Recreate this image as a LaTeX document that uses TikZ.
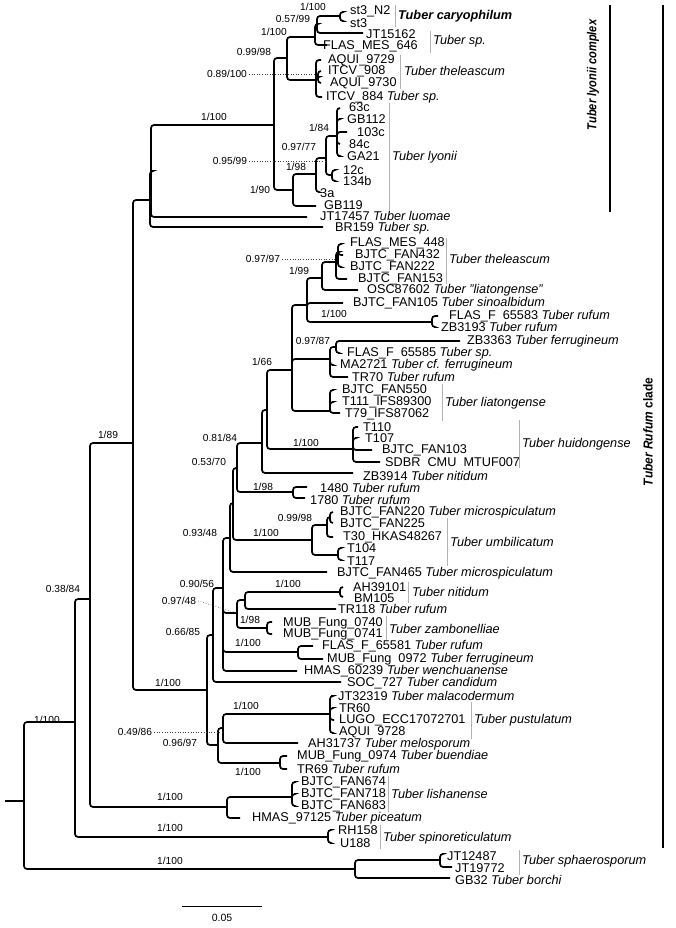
\documentclass[tikz,border=0pt]{standalone}
\usepackage{fontspec}
\setmainfont{Liberation Sans}
\usepackage{graphicx}
\newcommand\brn[2]{\draw[branch] (#1) |- (#2);}
\begin{document}
\begin{tikzpicture}[x=1pt,y=-1pt,
  branch/.style={line width=1.7pt, rounded corners=3pt},
  leaf/.style={anchor=west, inner sep=0pt, font=\fontsize{12.7}{14}\selectfont},
  supv/.style={inner sep=0pt, font=\fontsize{10.2}{11}\selectfont},
  grp/.style={anchor=west, inner sep=0pt, font=\fontsize{12.7}{14}\selectfont\itshape},
  gbar/.style={draw=gray!60, line width=0.7pt},
  dotl/.style={dotted, line width=0.6pt, black!75},
  clade/.style={rotate=90, inner sep=0pt, font=\fontsize{13}{15}\selectfont\bfseries},
]
\useasboundingbox (0,0) rectangle (676,928);
% ---------- internal nodes ----------
\coordinate (rootL) at (5,801);
\coordinate (root) at (24,801);
\coordinate (S1) at (75,722);
\coordinate (SPH) at (355,869);
\coordinate (JTP) at (440,860);
\coordinate (T) at (90,599);
\coordinate (RH) at (328,837);
\coordinate (R) at (133,443);
\coordinate (LISH) at (227,807);
\coordinate (LB) at (292,797);
\coordinate (L2) at (150,200);
\coordinate (L1) at (151,171);
\coordinate (D) at (274,125);
\coordinate (Cp) at (287,58);
\coordinate (Cn) at (315,37);
\coordinate (B) at (317,24);
\coordinate (A) at (340,16);
\coordinate (G2) at (316,80);
\coordinate (G3) at (318,77);
\coordinate (E) at (293,190);
\coordinate (F) at (316,174);
\coordinate (G) at (326,158);
\coordinate (H) at (337,136);
\coordinate (I) at (332,175);
\coordinate (N2) at (207,690);
\coordinate (N3) at (213,635);
\coordinate (N4) at (223,588);
\coordinate (N5) at (230,538);
\coordinate (N8) at (233,503);
\coordinate (N9) at (237,468);
\coordinate (N10) at (262,443);
\coordinate (N11) at (267,410);
\coordinate (N12) at (292,370);
\coordinate (N13) at (307,305);
\coordinate (N14) at (322,278);
\coordinate (N15) at (336,262);
\coordinate (N16) at (338,252);
\coordinate (RF2) at (432,322);
\coordinate (N17) at (330,359);
\coordinate (N18) at (336,347);
\coordinate (LIA) at (330,411);
\coordinate (HUI) at (353,449);
\coordinate (R98) at (293,492);
\coordinate (UMB) at (312,540);
\coordinate (U1) at (327,525);
\coordinate (U3) at (330,517);
\coordinate (U2) at (338,555);
\coordinate (N6) at (237,613);
\coordinate (N7) at (245,600);
\coordinate (NIT) at (340,592);
\coordinate (ZAM) at (267,628);
\coordinate (RF) at (298,652);
\coordinate (P2) at (218,745);
\coordinate (P1) at (223,728);
\coordinate (PUS) at (330,714);
\coordinate (BUE) at (280,763);
% ---------- tips ----------
\coordinate (tst3N2) at (342,12);
\coordinate (tst3) at (342,21);
\coordinate (tJT15162) at (363,33);
\coordinate (tFM646) at (327,45);
\coordinate (tAQ9729) at (321,60);
\coordinate (tIT908) at (321,71);
\coordinate (tAQ9730) at (321,83);
\coordinate (tIT884) at (322,97);
\coordinate (t63c) at (340,108);
\coordinate (tGB112) at (339,119);
\coordinate (t103c) at (347,132);
\coordinate (t84c) at (340,144);
\coordinate (tGA21) at (338,156);
\coordinate (t12c) at (334,170);
\coordinate (t134b) at (334,181);
\coordinate (t3a) at (318,192);
\coordinate (tGB119) at (316,206);
\coordinate (tJT17457) at (307,217);
\coordinate (tBR159) at (323,227);
\coordinate (tFM448) at (340,244);
\coordinate (tF432) at (343,255);
\coordinate (tF222) at (340,267);
\coordinate (tF153) at (347,279);
\coordinate (tOSC) at (358,290);
\coordinate (tF105) at (343,303);
\coordinate (tFF583) at (438,316);
\coordinate (tZB3193) at (434,327);
\coordinate (tZB3363) at (460,341);
\coordinate (tFF585) at (338,353);
\coordinate (tMA2721) at (332,365);
\coordinate (tTR70) at (348,377);
\coordinate (tF550) at (332,390);
\coordinate (tT111) at (332,402);
\coordinate (tT79) at (340,413);
\coordinate (tT110) at (358,427);
\coordinate (tT107) at (355,438);
\coordinate (tF103) at (372,450);
\coordinate (tSDBR) at (380,462);
\coordinate (tZB3914) at (353,473);
\coordinate (t1480) at (307,487);
\coordinate (t1780) at (305,498);
\coordinate (tF220) at (333,512);
\coordinate (tF225) at (333,523);
\coordinate (tT30) at (333,537);
\coordinate (tT104) at (340,548);
\coordinate (tT117) at (340,560);
\coordinate (tF465) at (327,572);
\coordinate (tAH39101) at (343,587);
\coordinate (tBM105) at (343,597);
\coordinate (tTR118) at (336,609);
\coordinate (t0740) at (272,622);
\coordinate (t0741) at (272,634);
\coordinate (tFF581) at (313,646);
\coordinate (tM0972) at (323,659);
\coordinate (tHM60239) at (297,671);
\coordinate (tSOC) at (341,682);
\coordinate (tJT32319) at (331,696);
\coordinate (tTR60) at (332,708);
\coordinate (tLUGO) at (334,720);
\coordinate (tAQ9728) at (332,733);
\coordinate (tAH31737) at (298,743);
\coordinate (tM0974) at (287,756);
\coordinate (tTR69) at (287,769);
\coordinate (tF674) at (294,782);
\coordinate (tF718) at (294,794);
\coordinate (tF683) at (294,806);
\coordinate (tHM97125) at (240,818);
\coordinate (tRH158) at (330,830);
\coordinate (tU188) at (330,843);
\coordinate (tJT12487) at (442,854);
\coordinate (tJT19772) at (452,867);
\coordinate (tGB32) at (450,878);
% ---------- branches ----------
\draw[branch] (rootL) -- (root);
\brn{root}{S1} \brn{root}{SPH}
\brn{SPH}{JTP} \brn{SPH}{tGB32}
\brn{JTP}{tJT12487} \brn{JTP}{tJT19772}
\brn{S1}{T} \brn{S1}{RH}
\brn{RH}{tRH158} \brn{RH}{tU188}
\brn{T}{R} \brn{T}{LISH}
\brn{LISH}{LB} \brn{LISH}{tHM97125}
\brn{LB}{tF674} \brn{LB}{tF718} \brn{LB}{tF683}
\brn{R}{L2} \brn{R}{N2}
\brn{L2}{L1} \brn{L2}{tBR159}
\brn{L1}{D} \brn{L1}{tJT17457}
\brn{D}{Cp} \brn{D}{E}
\brn{Cp}{Cn} \brn{Cp}{G2}
\brn{Cn}{B} \brn{Cn}{tFM646}
\brn{B}{A} \brn{B}{tJT15162}
\brn{A}{tst3N2} \brn{A}{tst3}
\brn{G2}{tAQ9729} \brn{G2}{G3} \brn{G2}{tIT884}
\brn{G3}{tIT908} \brn{G3}{tAQ9730}
\brn{E}{F} \brn{E}{tGB119}
\brn{F}{G} \brn{F}{t3a}
\brn{G}{H} \brn{G}{I}
\brn{H}{t63c} \brn{H}{tGB112} \brn{H}{t103c} \brn{H}{t84c} \brn{H}{tGA21}
\brn{I}{t12c} \brn{I}{t134b}
\brn{N2}{N3} \brn{N2}{P2}
\brn{N3}{N4} \brn{N3}{tSOC}
\brn{N4}{N5} \brn{N4}{N6} \brn{N4}{RF} \brn{N4}{tHM60239}
\brn{N5}{N8} \brn{N5}{tF465}
\brn{N8}{N9} \brn{N8}{UMB}
\brn{N9}{N10} \brn{N9}{R98}
\brn{R98}{t1480} \brn{R98}{t1780}
\brn{N10}{N11} \brn{N10}{tZB3914}
\brn{N11}{N12} \brn{N11}{HUI}
\brn{HUI}{tT110} \brn{HUI}{tT107} \brn{HUI}{tF103} \brn{HUI}{tSDBR}
\brn{N12}{N13} \brn{N12}{N17} \brn{N12}{LIA}
\brn{N13}{N14} \brn{N13}{tF105} \brn{N13}{RF2}
\brn{N14}{N15} \brn{N14}{tOSC}
\brn{N15}{N16} \brn{N15}{tF153}
\brn{N16}{tFM448} \brn{N16}{tF432} \brn{N16}{tF222}
\brn{RF2}{tFF583} \brn{RF2}{tZB3193}
\brn{N17}{N18} \brn{N17}{tMA2721} \brn{N17}{tTR70}
\brn{N18}{tZB3363} \brn{N18}{tFF585}
\brn{LIA}{tF550} \brn{LIA}{tT111} \brn{LIA}{tT79}
\brn{UMB}{U1} \brn{UMB}{U2}
\brn{U1}{U3} \brn{U1}{tT30}
\brn{U3}{tF220} \brn{U3}{tF225}
\brn{U2}{tT104} \brn{U2}{tT117}
\brn{N6}{N7} \brn{N6}{ZAM}
\brn{N7}{NIT} \brn{N7}{tTR118}
\brn{NIT}{tAH39101} \brn{NIT}{tBM105}
\brn{ZAM}{t0740} \brn{ZAM}{t0741}
\brn{RF}{tFF581} \brn{RF}{tM0972}
\brn{P2}{P1} \brn{P2}{BUE}
\brn{P1}{PUS} \brn{P1}{tAH31737}
\brn{PUS}{tJT32319} \brn{PUS}{tTR60} \brn{PUS}{tLUGO} \brn{PUS}{tAQ9728}
\brn{BUE}{tM0974} \brn{BUE}{tTR69}
% ---------- leaf labels ----------
\node[leaf] (Lst3N2) at (350,11) {st3\_N2};
\node[leaf] (Lst3) at (350,23) {st3};
\node[leaf] (LJT15162) at (366,34) {JT15162};
\node[leaf] (LFM646) at (323,46) {FLAS\_MES\_646};
\node[leaf] (LAQ9729) at (328,60) {AQUI\_9729};
\node[leaf] (LIT908) at (328,71) {ITCV\_908};
\node[leaf] (LAQ9730) at (330,83) {AQUI\_9730};
\node[leaf] (LIT884) at (326,97) {ITCV\_884 \textit{Tuber sp.}};
\node[leaf] (L63c) at (349,107) {63c};
\node[leaf] (LGB112) at (347,119) {GB112};
\node[leaf] (L103c) at (357,132) {103c};
\node[leaf] (L84c) at (349,144) {84c};
\node[leaf] (LGA21) at (347,156) {GA21};
\node[leaf] (L12c) at (343,170) {12c};
\node[leaf] (L134b) at (343,181) {134b};
\node[leaf] (L3a) at (320,193) {3a};
\node[leaf] (LGB119) at (324,205) {GB119};
\node[leaf] (LJT17457) at (320,216) {JT17457 \textit{Tuber luomae}};
\node[leaf] (LBR159) at (335,228) {BR159 \textit{Tuber sp.}};
\node[leaf] (LFM448) at (350,243) {FLAS\_MES\_448};
\node[leaf] (LF432) at (355,255) {BJTC\_FAN432};
\node[leaf] (LF222) at (350,267) {BJTC\_FAN222};
\node[leaf] (LF153) at (358,279) {BJTC\_FAN153};
\node[leaf] (LOSC) at (367,290) {OSC87602 \textit{Tuber "liatongense"}};
\node[leaf] (LF105) at (353,303) {BJTC\_FAN105 \textit{Tuber sinoalbidum}};
\node[leaf] (LFF583) at (449,316) {FLAS\_F\ \ 65583 \textit{Tuber rufum}};
\node[leaf] (LZB3193) at (441,327) {ZB3193 \textit{Tuber rufum}};
\node[leaf] (LZB3363) at (467,341) {ZB3363 \textit{Tuber ferrugineum}};
\node[leaf] (LFF585) at (347,353) {FLAS\_F\ \ 65585 \textit{Tuber sp.}};
\node[leaf] (LMA2721) at (340,365) {MA2721 \textit{Tuber cf. ferrugineum}};
\node[leaf] (LTR70) at (352,377) {TR70 \textit{Tuber rufum}};
\node[leaf] (LF550) at (342,390) {BJTC\_FAN550};
\node[leaf] (LT111) at (342,402) {T111\_IFS89300};
\node[leaf] (LT79) at (345,414) {T79\_IFS87062};
\node[leaf] (LT110) at (363,427) {T110};
\node[leaf] (LT107) at (365,438) {T107};
\node[leaf] (LF103) at (382,450) {BJTC\_FAN103};
\node[leaf] (LSDBR) at (385,462) {SDBR\ \ CMU\ \ MTUF007};
\node[leaf] (LZB3914) at (363,476) {ZB3914 \textit{Tuber nitidum}};
\node[leaf] (L1480) at (320,488) {1480 \textit{Tuber rufum}};
\node[leaf] (L1780) at (310,500) {1780 \textit{Tuber rufum}};
\node[leaf] (LF220) at (340,512) {BJTC\_FAN220 \textit{Tuber microspiculatum}};
\node[leaf] (LF225) at (340,524) {BJTC\_FAN225};
\node[leaf] (LT30) at (343,537) {T30\_HKAS48267};
\node[leaf] (LT104) at (347,548) {T104};
\node[leaf] (LT117) at (347,561) {T117};
\node[leaf] (LF465) at (337,573) {BJTC\_FAN465 \textit{Tuber microspiculatum}};
\node[leaf] (LAH39101) at (353,587) {AH39101};
\node[leaf] (LBM105) at (354,598) {BM105};
\node[leaf] (LTR118) at (338,609) {TR118 \textit{Tuber rufum}};
\node[leaf] (L0740) at (283,623) {MUB\_Fung\_0740};
\node[leaf] (L0741) at (283,634) {MUB\_Fung\_0741};
\node[leaf] (LFF581) at (322,646) {FLAS\_F\_65581 \textit{Tuber rufum}};
\node[leaf] (LM0972) at (327,659) {MUB\_Fung\ \ 0972 \textit{Tuber ferrugineum}};
\node[leaf] (LHM60239) at (304,671) {HMAS\_60239 \textit{Tuber wenchuanense}};
\node[leaf] (LSOC) at (347,683) {SOC\_727 \textit{Tuber candidum}};
\node[leaf] (LJT32319) at (338,696) {JT32319 \textit{Tuber malacodermum}};
\node[leaf] (LTR60) at (339,708) {TR60};
\node[leaf] (LLUGO) at (339,720) {LUGO\_ECC17072701};
\node[leaf] (LAQ9728) at (339,732) {AQUI\ \ 9728};
\node[leaf] (LAH31737) at (308,744) {AH31737 \textit{Tuber melosporum}};
\node[leaf] (LM0974) at (297,756) {MUB\_Fung\_0974 \textit{Tuber buendiae}};
\node[leaf] (LTR69) at (297,769) {TR69 \textit{Tuber rufum}};
\node[leaf] (LF674) at (301,782) {BJTC\_FAN674};
\node[leaf] (LF718) at (301,794) {BJTC\_FAN718};
\node[leaf] (LF683) at (301,806) {BJTC\_FAN683};
\node[leaf] (LHM97125) at (252,818) {HMAS\_97125 \textit{Tuber piceatum}};
\node[leaf] (LRH158) at (338,830) {RH158};
\node[leaf] (LU188) at (340,843) {U188};
\node[leaf] (LJT12487) at (447,856) {JT12487};
\node[leaf] (LJT19772) at (455,868) {JT19772};
\node[leaf] (LGB32) at (455,880) {GB32 \textit{Tuber borchi}};
% ---------- group bars and names ----------
\draw[gbar] (395,5) -- (395,27);
\node[grp] (gcary) at (398,16) {\bfseries Tuber caryophilum};
\draw[gbar] (430,31) -- (430,53);
\node[grp] (gsp1) at (433,41) {Tuber sp.};
\draw[gbar] (400,55) -- (400,89);
\node[grp] (gthe1) at (404,71) {Tuber theleascum};
\draw[gbar] (389,103) -- (389,210);
\node[grp] (glyo) at (392,157) {Tuber lyonii};
\draw[gbar] (446,238) -- (446,284);
\node[grp] (gthe2) at (449,259) {Tuber theleascum};
\draw[gbar] (442,384) -- (442,421);
\node[grp] (glia) at (445,403) {Tuber liatongense};
\draw[gbar] (519,420) -- (519,468);
\node[grp] (ghui) at (522,444) {Tuber huidongense};
\draw[gbar] (447,518) -- (447,566);
\node[grp] (gumb) at (450,542) {Tuber umbilicatum};
\draw[gbar] (408,582) -- (408,603);
\node[grp] (gnit) at (412,592) {Tuber nitidum};
\draw[gbar] (386,616) -- (386,640);
\node[grp] (gzam) at (389,629) {Tuber zambonelliae};
\draw[gbar] (471,702) -- (471,739);
\node[grp] (gpus) at (474,720) {Tuber pustulatum};
\draw[gbar] (388,776) -- (388,812);
\node[grp] (glis) at (391,794) {Tuber lishanense};
\draw[gbar] (380,825) -- (380,849);
\node[grp] (gspi) at (383,838) {Tuber spinoreticulatum};
\draw[gbar] (519,850) -- (519,875);
\node[grp] (gsph) at (522,861) {Tuber sphaerosporum};
% ---------- support values ----------
\node[supv] (s01) at (313,7) {1/100};
\node[supv] (s02) at (293,19) {0.57/99};
\node[supv] (s03) at (274,32) {1/100};
\node[supv] (s04) at (254,52) {0.99/98};
\node[supv] (s05) at (227,74) {0.89/100};
\node[supv] (s06) at (214,117) {1/100};
\node[supv] (s07) at (319,128) {1/84};
\node[supv] (s08) at (299,147) {0.97/77};
\node[supv] (s09) at (230,161) {0.95/99};
\node[supv] (s10) at (296,167) {1/98};
\node[supv] (s11) at (260,190) {1/90};
\node[supv] (s12) at (263,259) {0.97/97};
\node[supv] (s13) at (299,271) {1/99};
\node[supv] (s14) at (334,314) {1/100};
\node[supv] (s15) at (313,341) {0.97/87};
\node[supv] (s16) at (262,362) {1/66};
\node[supv] (s17) at (220,438) {0.81/84};
\node[supv] (s18) at (306,443) {1/100};
\node[supv] (s19) at (108,435) {1/89};
\node[supv] (s20) at (209,462) {0.53/70};
\node[supv] (s21) at (263,487) {1/98};
\node[supv] (s22) at (295,518) {0.99/98};
\node[supv] (s23) at (200,533) {0.93/48};
\node[supv] (s24) at (266,533) {1/100};
\node[supv] (s25) at (288,584) {1/100};
\node[supv] (s26) at (197,584) {0.90/56};
\node[supv] (s27) at (179,601) {0.97/48};
\node[supv] (s28) at (63,589) {0.38/84};
\node[supv] (s29) at (250,620) {1/98};
\node[supv] (s30) at (183,632) {0.66/85};
\node[supv] (s31) at (248,643) {1/100};
\node[supv] (s32) at (168,683) {1/100};
\node[supv] (s33) at (246,706) {1/100};
\node[supv] (s34) at (47,720) {1/100};
\node[supv] (s35) at (135,732) {0.49/86};
\node[supv] (s36) at (180,743) {0.96/97};
\node[supv] (s37) at (248,772) {1/100};
\node[supv] (s38) at (170,797) {1/100};
\node[supv] (s39) at (170,828) {1/100};
\node[supv] (s40) at (170,861) {1/100};
% dotted leaders
\draw[dotl] ([xshift=2pt]s05.east) -- (s05.east -| G2);
\draw[dotl] ([xshift=2pt]s09.east) -- (s09.east -| G);
\draw[dotl] ([xshift=2pt]s12.east) -- (s12.east -| N15);
\draw[dotl] ([xshift=2pt]s27.east) -- (N6);
\draw[dotl] ([xshift=2pt]s35.east) -- (s35.east -| P1);
% ---------- scale bar ----------
\coordinate (sbL) at (182,906);
\coordinate (sbR) at (262,906);
\draw[line width=0.8pt] (sbL) -- (sbR);
\node[supv, font=\fontsize{10.5}{12}\selectfont] (sbT) at (222,918) {0.05};
% ---------- clade bars ----------
\coordinate (cb1t) at (610,5);
\coordinate (cb1b) at (610,212);
\draw[line width=1.7pt] (cb1t) -- (cb1b);
\node[clade] (clyo) at (593,75) {\scalebox{0.85}[1]{\itshape Tuber lyonii complex}};
\coordinate (cb2t) at (663,5);
\coordinate (cb2b) at (663,848);
\draw[line width=1.7pt] (cb2t) -- (cb2b);
\node[clade] (cruf) at (648,432) {\scalebox{0.92}[1]{\textit{Tuber Rufum} clade}};
\end{tikzpicture}
\end{document}
